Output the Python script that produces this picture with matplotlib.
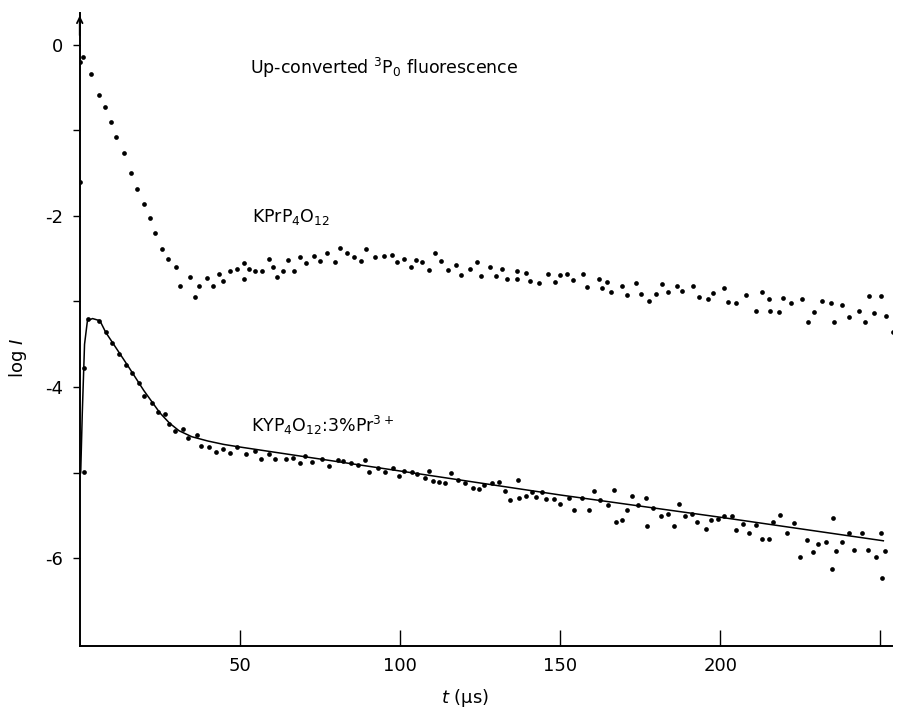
import numpy as np
import matplotlib
matplotlib.use("Agg")
import matplotlib.pyplot as plt

plt.rcParams.update({
    "font.family": ["DejaVu Sans"],
    "mathtext.fontset": "dejavusans",
    "axes.linewidth": 1.4,
})

# KPrP4O12 (upper dots)
t_kpr = [0.0, 0.0, 1.1, 3.5, 6.0, 7.8, 9.7, 11.4, 13.7, 16.0, 17.9, 20.0, 21.9, 23.5,
         25.6, 27.7, 30.0, 31.3, 34.3, 36.0, 37.2, 39.7, 41.7, 43.5, 44.7, 46.9, 49.0,
         51.2, 51.3, 52.9, 54.6, 57.0, 59.1, 60.4, 61.5, 63.4, 65.1, 67.0, 68.8, 70.6,
         73.2, 75.0, 77.3, 79.8, 81.3, 83.6, 85.6, 87.7, 89.4, 92.2, 95.0, 97.4, 99.0,
         101.3, 103.3, 105.0, 106.8, 109.1, 110.9, 112.7, 114.9, 117.4, 119.0, 121.9,
         123.9, 125.4, 128.1, 129.9, 131.8, 133.5, 136.4, 136.6, 139.4, 140.6, 143.5,
         146.1, 148.5, 150.0, 152.1, 154.1, 157.0, 158.3, 162.0, 163.0, 164.5, 165.8,
         169.2, 171.0, 173.6, 175.2, 177.8, 179.9, 181.8, 183.8, 186.5, 188.0, 191.4,
         193.4, 196.3, 197.8, 201.2, 202.4, 204.9, 207.9, 211.1, 213.0, 215.2, 215.5,
         218.3, 219.7, 222.2, 225.4, 227.3, 229.4, 231.8, 234.6, 235.6, 238.1, 240.3,
         243.3, 245.2, 246.5, 247.9, 250.1, 251.7, 254.0]
y_kpr = [-1.61, -0.20, -0.145, -0.35, -0.59, -0.73, -0.90, -1.08, -1.27, -1.50, -1.69,
         -1.86, -2.03, -2.20, -2.385, -2.51, -2.60, -2.82, -2.71, -2.945, -2.82, -2.73,
         -2.82, -2.68, -2.76, -2.65, -2.62, -2.555, -2.735, -2.625, -2.645, -2.645, -2.50,
         -2.595, -2.72, -2.645, -2.52, -2.645, -2.48, -2.555, -2.47, -2.53, -2.43, -2.54,
         -2.38, -2.44, -2.485, -2.53, -2.39, -2.48, -2.47, -2.46, -2.54, -2.50, -2.595,
         -2.52, -2.545, -2.63, -2.43, -2.525, -2.63, -2.575, -2.695, -2.625, -2.54, -2.70,
         -2.595, -2.70, -2.625, -2.74, -2.645, -2.74, -2.67, -2.76, -2.78, -2.68, -2.77,
         -2.69, -2.68, -2.75, -2.68, -2.83, -2.74, -2.84, -2.77, -2.895, -2.82, -2.92,
         -2.79, -2.91, -3.00, -2.91, -2.80, -2.89, -2.82, -2.88, -2.825, -2.945, -2.97,
         -2.905, -2.845, -3.01, -3.015, -2.92, -3.11, -2.89, -2.97, -3.11, -3.12, -2.96,
         -3.02, -2.97, -3.24, -3.12, -3.00, -3.015, -3.24, -3.04, -3.18, -3.115, -3.24,
         -2.94, -3.13, -2.94, -3.17, -3.36]

# KYP4O12:3%Pr3+ (lower dots)
t_kyp = [1.35, 1.35, 2.7, 6.1, 8.1, 10.2, 12.4, 14.5, 16.4, 18.5, 20.1, 22.5, 24.5, 26.5,
         28.0, 29.7, 32.2, 33.9, 36.5, 38.0, 40.4, 42.6, 44.6, 46.9, 49.1, 51.8, 54.7,
         56.6, 59.2, 61.1, 64.3, 66.7, 68.8, 70.2, 72.4, 75.5, 77.7, 80.7, 82.3, 84.8,
         87.0, 89.1, 90.3, 93.2, 95.3, 97.9, 99.8, 101.3, 103.7, 105.4, 107.7, 109.2,
         110.4, 112.2, 114.1, 116.0, 118.2, 120.3, 122.7, 124.6, 126.2, 128.6, 130.8,
         132.8, 134.4, 136.7, 137.1, 139.4, 141.2, 142.5, 144.4, 145.7, 148.1, 150.0,
         152.8, 154.2, 156.8, 159.0, 160.6, 162.5, 165.0, 166.9, 167.4, 169.3, 170.9,
         172.3, 174.3, 176.8, 177.0, 179.1, 181.4, 183.7, 185.5, 187.0, 189.0, 191.3,
         192.7, 195.5, 197.0, 199.2, 201.2, 203.6, 204.9, 207.0, 209.0, 211.2, 212.9,
         215.3, 216.4, 218.6, 220.9, 223.0, 224.9, 227.1, 228.8, 230.6, 233.1, 234.8,
         235.2, 236.1, 238.0, 240.1, 241.8, 244.2, 246.1, 248.6, 250.2, 250.5, 251.5,
         254.8]
y_kyp = [-4.995, -3.78, -3.21, -3.225, -3.36, -3.48, -3.61, -3.745, -3.83, -3.955, -4.10,
         -4.19, -4.295, -4.32, -4.43, -4.51, -4.49, -4.60, -4.56, -4.69, -4.70, -4.76,
         -4.72, -4.765, -4.695, -4.78, -4.745, -4.84, -4.785, -4.84, -4.84, -4.825, -4.885,
         -4.80, -4.88, -4.84, -4.92, -4.855, -4.86, -4.89, -4.91, -4.85, -4.99, -4.95,
         -4.995, -4.95, -5.04, -4.975, -4.995, -5.01, -5.065, -4.98, -5.095, -5.11, -5.12,
         -5.005, -5.085, -5.115, -5.18, -5.19, -5.14, -5.12, -5.11, -5.21, -5.32, -5.085,
         -5.30, -5.27, -5.22, -5.285, -5.22, -5.31, -5.305, -5.37, -5.30, -5.44, -5.295,
         -5.43, -5.21, -5.32, -5.38, -5.20, -5.58, -5.55, -5.43, -5.27, -5.38, -5.30,
         -5.62, -5.41, -5.51, -5.48, -5.62, -5.37, -5.51, -5.485, -5.575, -5.66, -5.55,
         -5.535, -5.51, -5.51, -5.67, -5.60, -5.70, -5.61, -5.77, -5.77, -5.58, -5.49,
         -5.70, -5.59, -5.98, -5.79, -5.93, -5.83, -5.815, -6.12, -5.53, -5.92, -5.815,
         -5.705, -5.90, -5.705, -5.905, -5.99, -5.70, -6.23, -5.91, -5.92]

# fitted curve through the lower data
t_fit = [0.3, 0.8, 1.5, 2.4, 4.0, 6.3, 8.1, 15.0, 20.0, 25.0, 28.0, 31.0, 35.0, 40.0,
         45.0, 50.0, 100.0, 150.0, 200.0, 250.9]
y_fit = [-5.0, -4.3, -3.5, -3.225, -3.20, -3.225, -3.36, -3.75, -4.04, -4.30, -4.42,
         -4.51, -4.58, -4.63, -4.67, -4.70, -4.98, -5.26, -5.52, -5.795]

fig = plt.figure(figsize=(9.01, 7.13), dpi=100)
ax = fig.add_axes([0.0885, 0.0944, 0.9015, 0.8876])

ax.plot(t_kpr, y_kpr, "o", color="black", ms=3.4, mew=0)
ax.plot(t_kyp, y_kyp, "o", color="black", ms=3.4, mew=0)
ax.plot(t_fit, y_fit, "-", color="black", lw=1.1)

ax.set_xlim(0, 253.6)
ax.set_ylim(-7.02, 0.37)

for s in ["top", "right"]:
    ax.spines[s].set_visible(False)

ax.set_xticks([50, 100, 150, 200, 250])
ax.set_xticklabels(["50", "100", "150", "200", ""])
ax.tick_params(axis="x", direction="in", length=11.5, width=1.0, pad=8, labelsize=13)

ax.set_yticks([0, -2, -4, -6])
ax.set_yticklabels(["0", "-2", "-4", "-6"])
ax.set_yticks([-1, -3, -5], minor=True)
ax.tick_params(axis="y", which="both", direction="out", length=5, width=1.0, pad=7,
               labelsize=13)

ax.annotate("", xy=(0, 1.0), xytext=(0, 0.96), xycoords="axes fraction",
            arrowprops=dict(arrowstyle="->", lw=1.3, color="black"))

ax.set_ylabel(r"log $I$", fontsize=13)
ax.yaxis.set_label_coords(-0.062, 0.455)
ax.set_xlabel(r"$t$ (µs)", fontsize=13)
ax.xaxis.set_label_coords(0.474, -0.066)

ax.text(53.2, -0.34, r"Up-converted $^3$P$_0$ fluorescence", fontsize=12.5, va="baseline")
ax.text(53.7, -2.07, r"KPrP$_4$O$_{12}$", fontsize=12.5, va="baseline")
ax.text(53.4, -4.52, r"KYP$_4$O$_{12}$:3%Pr$^{3+}$", fontsize=12.5, va="baseline")

fig.savefig("out.png", dpi=100)
